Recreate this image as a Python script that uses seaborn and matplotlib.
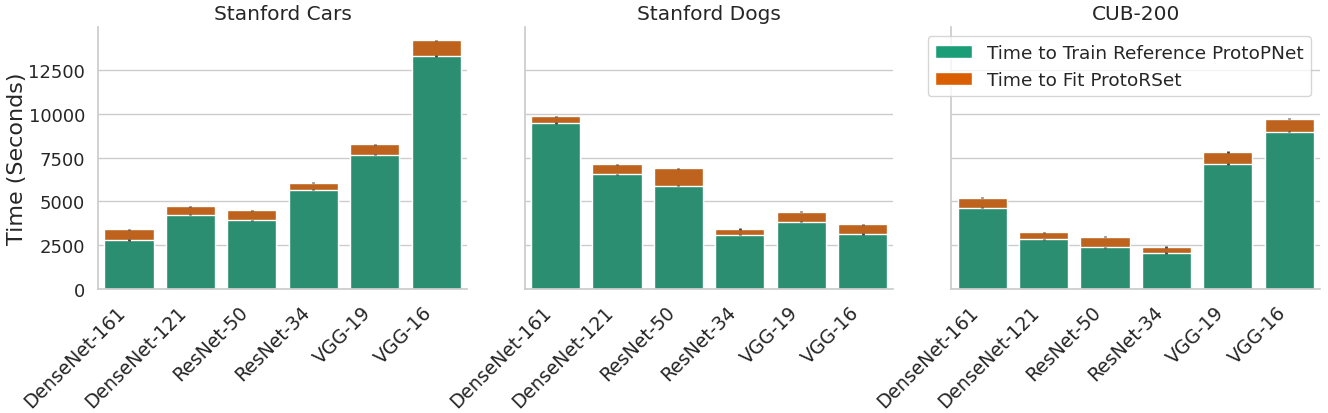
import numpy as np
import pandas as pd
import seaborn as sns
import matplotlib
matplotlib.use("Agg")
import matplotlib.pyplot as plt
from matplotlib.patches import Patch

# Backbones shown on every panel
models = ["DenseNet-161", "DenseNet-121", "ResNet-50", "ResNet-34", "VGG-19", "VGG-16"]
datasets = ["Stanford Cars", "Stanford Dogs", "CUB-200"]

# Time to train the reference ProtoPNet (seconds)
cars_train = [2800, 4240, 3910, 5670, 7670, 13320]
dogs_train = [9480, 6540, 5900, 3090, 3840, 3130]
cub_train = [4640, 2820, 2370, 2040, 7140, 8990]

# Extra time to fit ProtoRSet on top (seconds)
cars_fit = [600, 470, 570, 400, 590, 890]
dogs_fit = [380, 580, 990, 330, 570, 550]
cub_fit = [570, 400, 610, 360, 680, 740]

# Small spread shown as error bars
cars_err = [40, 40, 40, 40, 40, 40]
dogs_err = [40, 40, 40, 40, 40, 40]
cub_err = [40, 40, 40, 40, 40, 40]

train_times = [cars_train, dogs_train, cub_train]
fit_times = [cars_fit, dogs_fit, cub_fit]
errors = [cars_err, dogs_err, cub_err]

green = "#1b9e77"
orange = "#d95f02"

sns.set_theme(style="whitegrid")
plt.rcParams['font.family'] = ['DejaVu Sans']

fig, axes = plt.subplots(1, 3, figsize=(13.28, 4.14), dpi=100, sharey=True)
fig.subplots_adjust(left=0.074, right=0.994, bottom=0.30, top=0.932, wspace=0.157)

for ax, name, train, fit, err in zip(axes, datasets, train_times, fit_times, errors):
    df = pd.DataFrame({"model": models, "train": train, "fit": fit})
    df["total"] = df["train"] + df["fit"]

    # total bar first, reference training time drawn over it
    sns.barplot(data=df, x="model", y="total", color=orange, ax=ax, errorbar=None)
    sns.barplot(data=df, x="model", y="train", color=green, ax=ax, errorbar=None)

    xs = np.arange(len(models))
    ax.errorbar(xs, df["train"], yerr=err, fmt="none", ecolor="#424242", lw=2, capsize=0, zorder=5)
    ax.errorbar(xs, df["total"], yerr=err, fmt="none", ecolor="#424242", lw=2, capsize=0, zorder=5)

    ax.set_title(name, fontsize=14.5)
    ax.set_xlabel("")
    ax.set_ylabel("")
    ax.tick_params(axis="x", labelsize=13.5)
    ax.tick_params(axis="y", labelsize=13)
    plt.setp(ax.get_xticklabels(), rotation=45, ha="right")
    ax.xaxis.grid(False)
    ax.set_xlim(-0.5, len(models) - 0.5)

axes[0].set_ylabel("Time (Seconds)", fontsize=16, labelpad=1)
axes[0].set_yticks([0, 2500, 5000, 7500, 10000, 12500])
sns.despine(fig=fig)

handles = [Patch(facecolor=green, label="Time to Train Reference ProtoPNet"),
           Patch(facecolor=orange, label="Time to Fit ProtoRSet")]
axes[2].legend(handles=handles, loc="upper right", fontsize=13.3)

fig.savefig("out.png", dpi=100)
